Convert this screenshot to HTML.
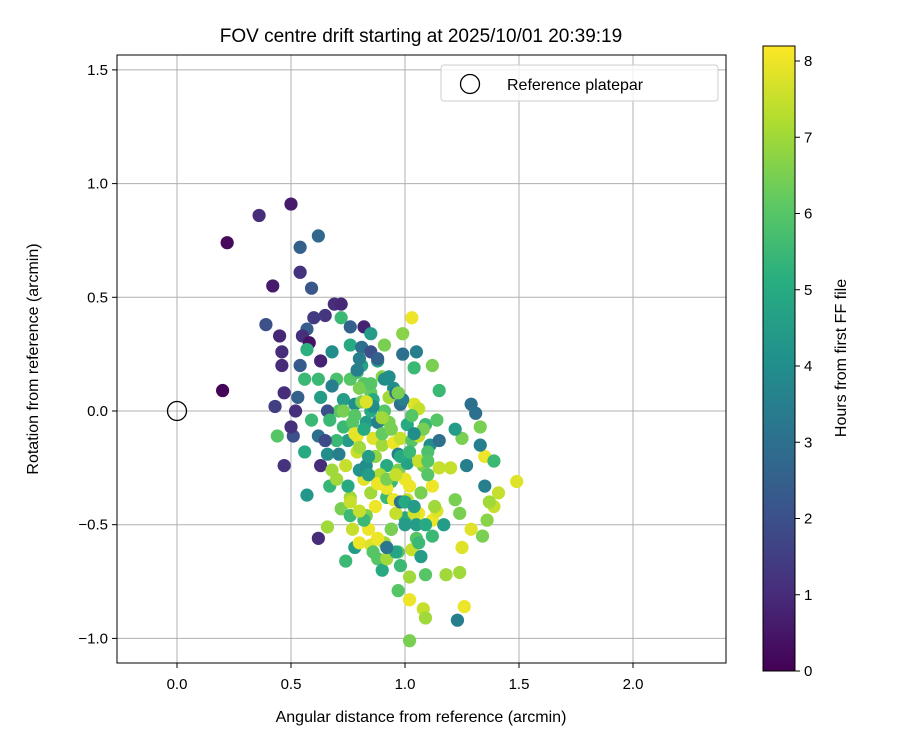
<!DOCTYPE html>
<html><head><meta charset="utf-8"><style>
body{margin:0;background:#fff;}
svg text{font-family:"Liberation Sans","DejaVu Sans",sans-serif;fill:#000;}
</style></head><body>
<svg id="chart" width="900" height="750" xmlns="http://www.w3.org/2000/svg">
<defs>
<linearGradient id="vir" x1="0" y1="1" x2="0" y2="0">
<stop offset="0" stop-color="#440154"/><stop offset="0.125" stop-color="#472d7b"/><stop offset="0.25" stop-color="#3b528b"/><stop offset="0.375" stop-color="#2c728e"/><stop offset="0.5" stop-color="#21918c"/><stop offset="0.625" stop-color="#28ae80"/><stop offset="0.75" stop-color="#5ec962"/><stop offset="0.875" stop-color="#addc30"/><stop offset="1" stop-color="#fde725"/>
</linearGradient>
<clipPath id="pc"><rect x="117" y="55" width="609" height="608"/></clipPath>
</defs>
<text x="421" y="42" font-size="19" text-anchor="middle">FOV centre drift starting at 2025/10/01 20:39:19</text>
<g id="grid"></g>
<g id="points" clip-path="url(#pc)"></g>
<circle cx="177" cy="411" r="9.5" fill="none" stroke="#000" stroke-width="1.3"/>
<rect x="117" y="55" width="609" height="608" fill="none" stroke="#000" stroke-width="1"/>
<g id="ticks"></g>
<text x="421" y="722" font-size="16" text-anchor="middle">Angular distance from reference (arcmin)</text>
<text transform="translate(38,359) rotate(-90)" font-size="16" text-anchor="middle">Rotation from reference (arcmin)</text>
<g>
<rect x="441" y="65" width="277" height="36" rx="3" fill="#fff" fill-opacity="0.8" stroke="#ccc"/>
<circle cx="470" cy="84" r="9.5" fill="none" stroke="#000" stroke-width="1.3"/>
<text x="507" y="90" font-size="16">Reference platepar</text>
</g>
<rect x="763" y="46" width="32" height="625" fill="url(#vir)" stroke="#000" stroke-width="1"/>
<g id="cticks"></g>
<text transform="translate(846,358) rotate(-90)" font-size="16" text-anchor="middle">Hours from first FF file</text>
</svg>
<script>
const xTicks=[0.0,0.5,1.0,1.5,2.0];
const yTicks=[-1.0,-0.5,0.0,0.5,1.0,1.5];
const cTicks=[0,1,2,3,4,5,6,7,8];
const xs=[0.22,0.20,0.36,0.50,0.42,0.39,0.45,0.46,0.46,0.43,0.47,0.47,0.44,0.51,0.54,0.62,0.54,0.59,0.57,0.55,0.58,0.57,0.63,0.54,0.53,0.52,0.50,0.65,0.60,0.69,0.72,0.72,0.76,0.82,0.85,0.76,0.68,0.62,0.70,0.56,0.62,0.63,0.62,0.57,0.56,0.66,0.67,0.70,0.66,0.72,0.76,0.76,0.77,0.78,0.80,0.85,0.88,0.90,0.92,0.97,1.02,1.02,1.08,1.09,1.09,1.02,1.18,1.24,1.26,1.23,1.34,1.25,1.29,1.39,1.41,1.49,1.36,1.37,1.35,1.35,1.39,1.33,1.31,1.33,1.29,1.25,1.27,1.22,1.22,1.24,1.20,1.15,1.03,0.99,1.05,0.99,0.91,0.88,0.90,0.95,0.93,0.98,1.04,1.06,1.04,0.81,0.82,0.85,0.76,0.71,0.73,0.78,0.83,0.73,0.75,0.79,0.79,0.86,0.90,0.95,0.98,1.03,1.06,1.09,1.14,1.11,1.15,1.08,1.15,1.12,1.07,1.02,1.01,1.06,1.12,1.14,1.00,0.96,0.94,0.92,0.85,0.87,0.83,0.84,0.91,0.97,1.03,1.07,1.05,0.95,0.88,0.82,0.80,0.74,0.68,0.71,0.75,0.83,0.92,0.97,1.01,0.97,0.93,0.88,0.85,0.91,1.01,0.81,0.85,0.88,0.93,0.96,0.79,0.80,0.68,0.63,0.66,0.67,0.70,0.77,0.65,0.59,0.73,0.80,0.86,0.81,0.89,0.94,1.00,1.10,1.13,1.17,0.87,0.92,0.98,1.04,1.10,0.90,0.96,0.78,0.84,1.05,1.12,0.99,
0.78,0.82,0.86,0.90,0.94,0.98,1.02,1.06,1.10,0.80,0.84,0.88,0.92,0.96,1.00,1.04,1.08,0.76,0.82,0.88,0.94,1.00,1.06,1.12,0.79,0.85,0.91,0.97,1.03,1.09,0.74,0.80,0.86,0.92,0.98,1.04,0.83,0.89,0.95,1.01];
const ys=[0.74,0.09,0.86,0.91,0.55,0.38,0.33,0.26,0.20,0.02,0.08,-0.24,-0.11,-0.11,0.72,0.77,0.61,0.54,0.36,0.33,0.30,0.27,0.22,0.20,0.06,0.00,-0.07,0.42,0.41,0.47,0.47,0.41,0.37,0.37,0.34,0.29,0.26,0.14,0.14,0.14,-0.11,-0.24,-0.56,-0.37,-0.18,-0.19,-0.33,-0.30,-0.51,-0.43,-0.38,-0.46,-0.52,-0.60,-0.58,-0.59,-0.65,-0.70,-0.65,-0.79,-0.83,-1.01,-0.87,-0.91,-0.72,-0.73,-0.72,-0.71,-0.86,-0.92,-0.55,-0.60,-0.52,-0.42,-0.36,-0.31,-0.48,-0.40,-0.33,-0.20,-0.22,-0.15,-0.01,-0.07,0.03,-0.12,-0.24,-0.08,-0.39,-0.45,-0.25,0.09,0.41,0.34,0.26,0.25,0.29,0.22,0.15,0.10,0.06,0.03,0.03,0.01,0.19,0.20,0.12,0.08,0.14,0.00,0.05,0.03,-0.05,-0.07,-0.13,-0.18,-0.11,-0.12,-0.15,-0.14,-0.12,-0.13,-0.11,-0.06,-0.04,-0.15,-0.13,-0.24,-0.25,-0.33,-0.36,-0.33,-0.39,-0.45,-0.48,-0.44,-0.47,-0.45,-0.52,-0.38,-0.36,-0.42,-0.46,-0.52,-0.58,-0.62,-0.61,-0.64,-0.56,-0.39,-0.30,-0.30,-0.26,-0.24,-0.26,-0.19,-0.33,-0.24,-0.24,-0.26,-0.23,-0.19,-0.05,-0.05,0.00,0.00,-0.06,0.28,0.26,0.23,0.15,0.08,0.17,0.23,0.11,0.06,0.00,-0.04,-0.13,-0.05,-0.13,-0.04,0.00,0.10,0.05,0.04,-0.28,-0.31,-0.30,-0.28,-0.42,-0.50,-0.20,-0.34,-0.40,-0.45,-0.18,-0.10,-0.62,-0.10,-0.20,-0.50,-0.55,
0.05,-0.02,-0.08,0.02,-0.03,-0.08,-0.20,-0.18,-0.22,-0.22,-0.16,-0.28,-0.32,-0.30,-0.28,-0.40,-0.42,-0.08,-0.40,-0.48,-0.56,-0.52,-0.50,-0.58,0.20,0.18,0.12,0.14,0.08,-0.02,-0.50,-0.66,-0.44,-0.62,-0.60,-0.68,-0.10,0.04,-0.35,-0.44];
const hs=[0.2,0.1,1.0,0.6,0.6,2.0,0.9,1.0,1.0,1.5,1.0,1.2,6.0,2.0,2.5,2.8,1.2,2.2,2.4,1.1,0.4,5.2,0.8,2.3,2.5,1.1,1.1,1.3,1.4,1.1,0.9,5.5,2.5,0.8,4.5,5.0,4.0,5.5,5.8,5.5,3.0,1.0,1.0,4.3,5.0,4.0,5.4,7.0,7.0,6.5,7.0,5.5,7.5,4.5,8.0,7.8,6.0,5.0,7.0,6.0,8.0,6.5,7.5,7.0,6.0,7.0,7.0,7.0,8.0,3.5,6.5,7.8,7.8,7.5,7.5,7.8,6.7,7.0,3.5,8.0,5.5,3.5,3.0,6.5,3.0,6.5,3.5,4.5,6.5,6.5,7.5,5.5,8.0,6.7,3.5,3.0,6.5,4.5,6.7,4.0,7.0,3.0,7.8,7.5,5.5,4.7,6.0,6.2,6.0,6.0,4.5,4.0,4.5,5.5,4.5,7.5,8.0,7.8,7.0,8.0,7.5,6.0,7.5,5.5,6.0,4.0,3.0,6.5,7.5,8.0,6.5,8.0,7.5,8.0,8.0,7.8,5.0,7.5,4.5,5.5,7.0,8.0,6.5,8.0,7.0,6.0,7.5,4.5,6.0,8.0,7.5,7.8,4.2,7.5,7.0,3.5,5.0,4.0,5.0,6.5,4.7,3.5,6.5,3.5,5.0,6.0,5.0,3.0,2.0,2.5,4.0,3.0,5.8,3.5,3.5,4.5,2.0,5.5,5.5,6.0,1.8,5.5,6.5,6.5,5.0,6.5,7.2,5.5,8.0,6.0,7.0,4.5,6.8,8.0,3.2,7.6,5.8,6.2,4.8,7.9,4.5,
4.5,5.5,3.5,6,5,4,7,6.5,5,5.5,7.5,6,7,4.5,8,6.5,7.5,5,4.5,6.5,7.5,5.5,8,6.5,4.5,5.5,6.5,3.5,6,4,6.5,6,5,5.5,7.5,6,3.2,5.5,4,7.8];
const X=v=>177+(v)*228, Y=v=>411-(v)*227.4, CY=v=>671-v*76.25;
const stops=["#440154","#472d7b","#3b528b","#2c728e","#21918c","#28ae80","#5ec962","#addc30","#fde725"];
function hex(c){return [1,3,5].map(i=>parseInt(c.substr(i,2),16));}
function vir(h){let t=Math.max(0,Math.min(1,(+h||0)/8.2))*8,i=Math.min(7,Math.floor(t)),f=t-i,a=hex(stops[i]),b=hex(stops[i+1]);return "rgb("+a.map((v,k)=>Math.round(v+(b[k]-v)*f)).join(",")+")";}
const NS="http://www.w3.org/2000/svg";
function mk(tag,attrs,parent){const e=document.createElementNS(NS,tag);for(const k in attrs)e.setAttribute(k,attrs[k]);parent.appendChild(e);return e;}
const grid=document.getElementById('grid'),ticks=document.getElementById('ticks'),pts=document.getElementById('points'),ct=document.getElementById('cticks');
xTicks.forEach(v=>{
 const l=mk('line',{x1:X(v),x2:X(v),y1:55,y2:663,stroke:'#b0b0b0','stroke-width':1},grid);
 
 
 mk('line',{x1:X(v),x2:X(v),y1:663,y2:668,stroke:'#000'},ticks);
 const t=mk('text',{x:X(v),y:689,'font-size':15,'text-anchor':'middle'},ticks);t.textContent=v.toFixed(1);
 
 
});
yTicks.forEach(v=>{
 const l=mk('line',{x1:117,x2:726,y1:Y(v),y2:Y(v),stroke:'#b0b0b0','stroke-width':1},grid);
 
 
 mk('line',{x1:112,x2:117,y1:Y(v),y2:Y(v),stroke:'#000'},ticks);
 const t=mk('text',{x:108,y:Y(v)+5,'font-size':15,'text-anchor':'end'},ticks);t.textContent=v<0?'\u2212'+Math.abs(v).toFixed(1):v.toFixed(1);
 
 
});
cTicks.forEach(v=>{
 mk('line',{x1:795,x2:800,y1:CY(v),y2:CY(v),stroke:'#000'},ct);
 const t=mk('text',{x:804,y:CY(v)+5,'font-size':15},ct);t.textContent=v;
 
 
});
const n=Math.min(xs.length,ys.length,hs.length);
for(let i=0;i<n;i++){
 const c=mk('circle',{cx:X(xs[i]),cy:Y(ys[i]),r:6.6,fill:vir(hs[i])},pts);
 
 
}
</script>
</body></html>
